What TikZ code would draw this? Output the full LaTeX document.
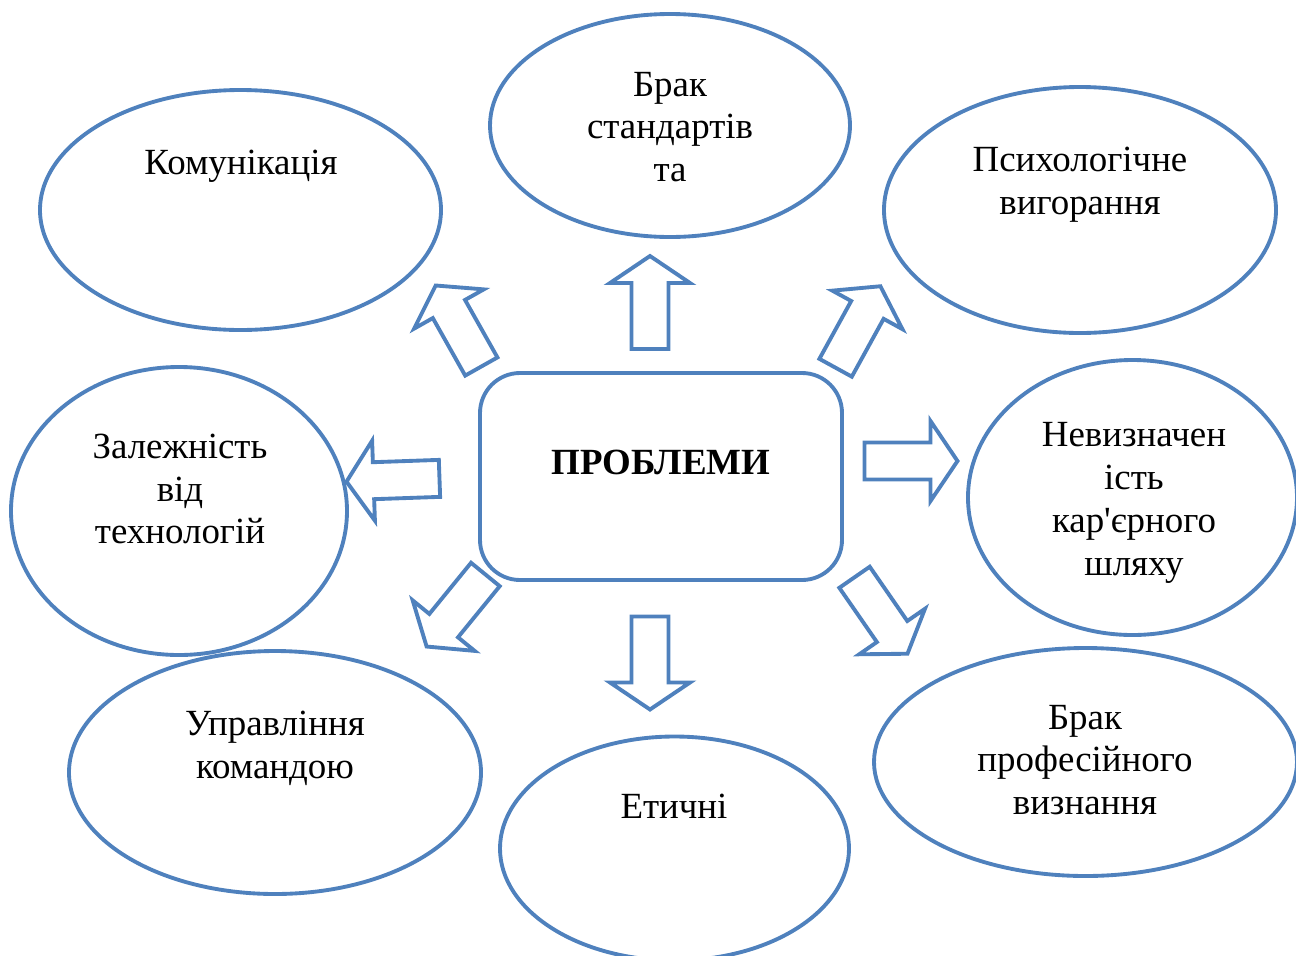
\documentclass[tikz,border=0pt]{standalone}
\usepackage{fontspec}
\setmainfont{Liberation Serif}
\usetikzlibrary{shapes.geometric}
\definecolor{wordblue}{RGB}{79,129,189}
\tikzset{blk/.pic={\draw[draw=wordblue,line width=1.1pt,fill=white] (-0.465,-0.185)--(0.195,-0.185)--(0.195,-0.40)--(0.465,0)--(0.195,0.40)--(0.195,0.185)--(-0.465,0.185)--cycle;}}

\begin{document}
\begin{tikzpicture}[font=\fontsize{10.5}{12.2}\selectfont,e/.style={draw=wordblue,line width=1.1pt,ellipse,inner sep=0pt},t/.style={align=center,inner sep=0pt}]
\useasboundingbox (0,0) rectangle (12.96,-9.55);
\node[draw=wordblue,line width=1.1pt,rounded corners=0.4cm,minimum width=3.62cm,minimum height=2.07cm] (p) at (6.61,-4.765) {};
\node[t,font=\fontsize{10.5}{12.2}\selectfont\bfseries] (pt) at (6.61,-4.62) {ПРОБЛЕМИ};
\node[e,minimum width=4.01cm,minimum height=2.40cm] (kom) at (2.405,-2.10) {};
\node[e,minimum width=3.60cm,minimum height=2.23cm] (std) at (6.70,-1.255) {};
\node[e,minimum width=3.92cm,minimum height=2.46cm] (psy) at (10.80,-2.10) {};
\node[e,minimum width=3.36cm,minimum height=2.88cm] (tech) at (1.79,-5.11) {};
\node[e,minimum width=3.29cm,minimum height=2.75cm] (kar) at (11.325,-4.975) {};
\node[e,minimum width=4.12cm,minimum height=2.43cm] (team) at (2.75,-7.725) {};
\node[e,minimum width=3.49cm,minimum height=2.24cm] (eth) at (6.745,-8.485) {};
\node[e,minimum width=4.23cm,minimum height=2.28cm] (viz) at (10.855,-7.62) {};
\node[t] (kom-t) at (2.41,-1.66) {Комунікація};
\node[t] (std-t) at (6.70,-1.27) {Брак\\стандартів\\та};
\node[t] (psy-t) at (10.80,-1.85) {Психологічне\\вигорання};
\node[t] (tech-t) at (1.80,-4.89) {Залежність\\від\\технологій};
\node[t] (kar-t) at (11.34,-5.03) {Невизначен\\ість\\кар\textquotesingle єрного\\шляху};
\node[t] (team-t) at (2.75,-7.48) {Управління\\командою};
\node[t] (eth-t) at (6.74,-8.06) {Етичні};
\node[t] (viz-t) at (10.85,-7.60) {Брак\\професійного\\визнання};
\pic[rotate=90] (a1) at (6.50,-3.025) {blk};
\pic[rotate=-90] (a2) at (6.50,-6.63) {blk};
\pic (a3) at (9.11,-4.61) {blk};
\pic[rotate=182] (a4) at (3.93,-4.80) {blk};
\pic[rotate=119.4] (a5) at (4.585,-3.26) {blk};
\pic[rotate=61.2] (a6) at (8.58,-3.27) {blk};
\pic[rotate=230.8] (a7) at (4.56,-6.105) {blk};
\pic[rotate=-55.3] (a8) at (8.81,-6.155) {blk};
\end{tikzpicture}
\end{document}
